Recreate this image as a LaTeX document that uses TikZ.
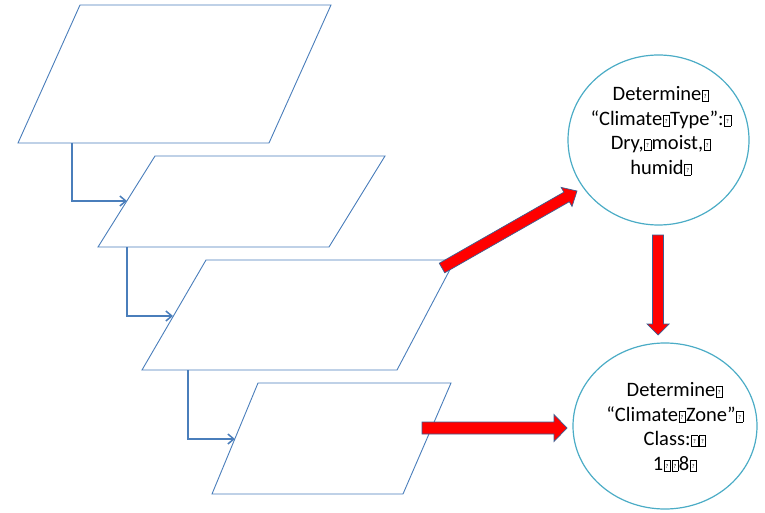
\documentclass[tikz,border=0pt]{standalone}
\usepackage{fontspec}
\setmainfont{Carlito}
\usetikzlibrary{calc,arrows.meta,shapes.geometric}
\definecolor{pblue}{HTML}{4A7EBB}
\definecolor{cteal}{HTML}{4BACC6}
\definecolor{aout}{HTML}{3B5E91}
% missing-glyph box as printed in the reference
\newcommand\mg{\kern0.5pt\raisebox{-0.5pt}{\setlength\fboxsep{0pt}\setlength\fboxrule{0.45pt}\fbox{\makebox[6pt]{\rule{0pt}{10.5pt}\raisebox{2.5pt}{\fontsize{6}{6}\selectfont ?}}}}\kern0.5pt}
% fat block arrow from named coordinate #1 to named coordinate #2
% #3 shaft half width, #4 head half width, #5 head length
\newcommand\fatarrow[5]{%
  \coordinate (fah) at ($(#2)!#5!(#1)$);
  \path[fat] ($(#1)!#3!90:(#2)$) -- ($(fah)!#3!-90:(#1)$) -- ($(fah)!#4!-90:(#1)$)
    -- (#2) -- ($(fah)!#4!90:(#1)$) -- ($(fah)!#3!90:(#1)$) -- ($(#1)!#3!-90:(#2)$) -- cycle;}
\begin{document}
\begin{tikzpicture}[x=1pt,y=-1pt,
  para/.style={draw=pblue,line width=0.9pt,fill=white,line join=miter},
  link/.style={draw=pblue,line width=2.1pt,-{Straight Barb[length=6pt,width=10pt,line width=1.5pt]}},
  bubble/.style={ellipse,draw=cteal,line width=1.2pt,fill=white,inner sep=0pt},
  txt/.style={align=center,font=\fontsize{20.5}{24.7}\selectfont,inner sep=0pt},
  fat/.style={fill=red,draw=aout,line width=0.7pt,line join=miter}]
\useasboundingbox (0,0) rectangle (765,513);

% parallelograms
\coordinate (p1a) at (80,5);   \coordinate (p1b) at (331,5);
\coordinate (p1c) at (269,143);\coordinate (p1d) at (18,143);
\coordinate (p2a) at (155,156);\coordinate (p2b) at (385,156);
\coordinate (p2c) at (329,247);\coordinate (p2d) at (98,247);
\coordinate (p3a) at (206,260);\coordinate (p3b) at (455,260);
\coordinate (p3c) at (397,370);\coordinate (p3d) at (142,370);
\coordinate (p4a) at (258,383);\coordinate (p4b) at (451,383);
\coordinate (p4c) at (403,494);\coordinate (p4d) at (212,494);
\draw[para] (p1a) -- (p1b) -- (p1c) -- (p1d) -- cycle;
\draw[para] (p2a) -- (p2b) -- (p2c) -- (p2d) -- cycle;
\draw[para] (p3a) -- (p3b) -- (p3c) -- (p3d) -- cycle;
\draw[para] (p4a) -- (p4b) -- (p4c) -- (p4d) -- cycle;

% elbow connectors
\coordinate (o1) at (72,143);  \coordinate (i2) at (127,201);
\coordinate (o2) at (127,247); \coordinate (i3) at (173,316);
\coordinate (o3) at (188,370); \coordinate (i4) at (235,439);
\draw[link] (o1) |- (i2);
\draw[link] (o2) |- (i3);
\draw[link] (o3) |- (i4);

% ellipses
\node[bubble,minimum width=181pt,minimum height=170pt] (c1) at (658.5,140) {};
\node[bubble,minimum width=184pt,minimum height=166pt] (c2) at (665,426) {};
\node[txt] (t1) at (661,131) {Determine\mg\\“Climate\mg Type”:\mg\\Dry,\mg moist,\mg\\humid\mg};
\node[txt] (t2) at (675,427) {Determine\mg\\“Climate\mg Zone”\mg\\Class:\mg\mg\\1\mg\mg 8\mg};

% red block arrows
\coordinate (ra1) at (442,268); \coordinate (ra2) at (577,191);
\coordinate (rb1) at (658,235); \coordinate (rb2) at (658,335);
\coordinate (rc1) at (422,428); \coordinate (rc2) at (567,428);
\fatarrow{ra1}{ra2}{5.5pt}{11pt}{12pt}
\fatarrow{rb1}{rb2}{5.5pt}{11pt}{11pt}
\fatarrow{rc1}{rc2}{6pt}{13.5pt}{13pt}
\end{tikzpicture}
\end{document}
